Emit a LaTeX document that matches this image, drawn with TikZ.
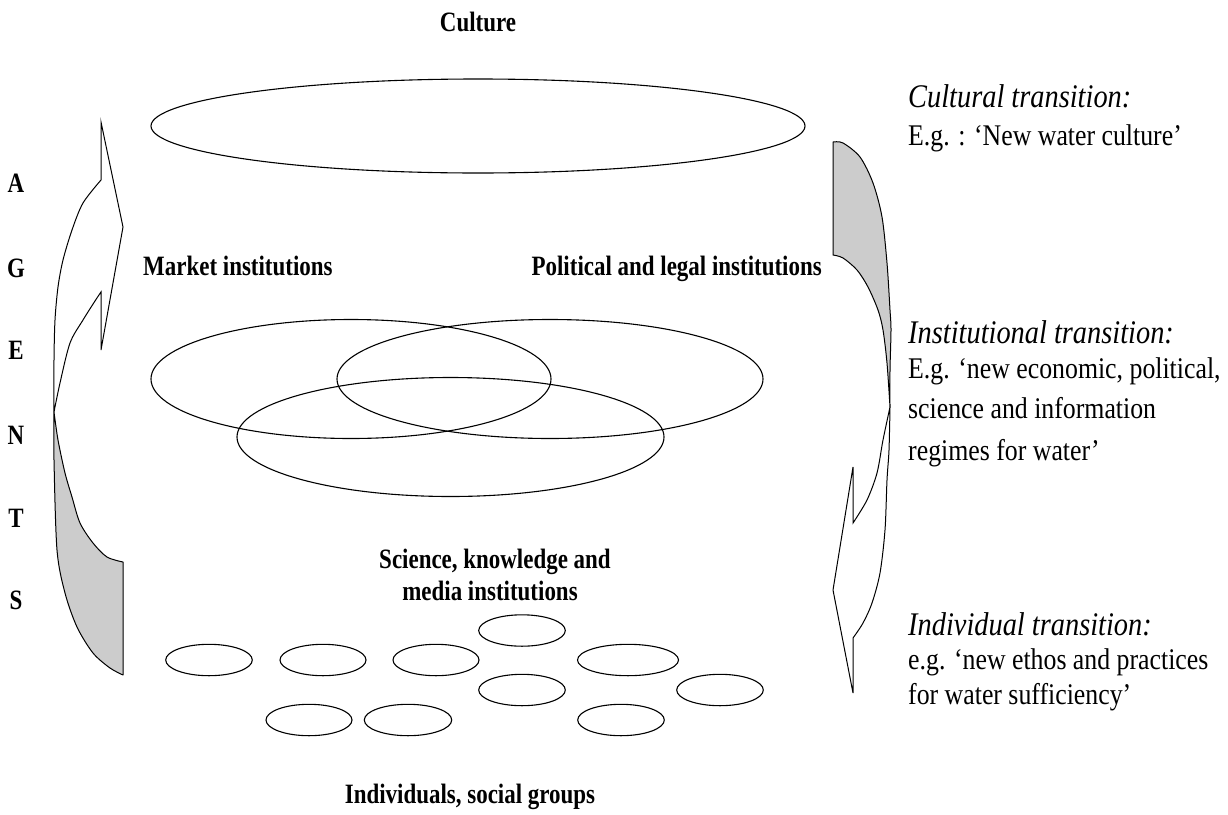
\documentclass[tikz,border=0pt]{standalone}
\usepackage{fontspec}
\setmainfont{Liberation Serif}
\newfontfamily\labelserif{Liberation Serif}[FakeStretch=0.82]
\newfontfamily\noteserif{Liberation Serif}[FakeStretch=0.86]
\usetikzlibrary{shapes.geometric}
\definecolor{backgray}{RGB}{204,204,204}

\begin{document}
\begin{tikzpicture}[x=1pt,y=-1pt,
  ring/.style 2 args={draw=black, line width=1.1pt, ellipse, inner sep=0pt,
    minimum width=#1, minimum height=#2},
  lbl/.style={font=\labelserif\bfseries\fontsize{28pt}{30pt}\selectfont, inner sep=0pt},
  agent/.style={font=\labelserif\bfseries\fontsize{28pt}{30pt}\selectfont, inner sep=0pt, anchor=center},
  head/.style={font=\noteserif\itshape\fontsize{33pt}{36pt}\selectfont, inner sep=0pt, anchor=base west},
  note/.style={font=\noteserif\fontsize{30pt}{32pt}\selectfont, inner sep=0pt, anchor=base west},
  backface/.style={fill=backgray, draw=black, line width=1pt, line join=round},
  frontface/.style={fill=white, draw=black, line width=1pt, line join=miter}]

\fill[white] (0,0) rectangle (1228,814);
\useasboundingbox (0,0) rectangle (1228,814);

% culture layer
\node[ring={654pt}{94pt}] (culture) at (478,126) {};
\node[lbl, anchor=base] (cultureLbl) at (478,31) {Culture};

% institutional layer
\node[ring={400pt}{119pt}] (market) at (351,379) {};
\node[ring={426pt}{119pt}] (political) at (550,379) {};
\node[ring={427pt}{119pt}] (science) at (450.5,437) {};
\node[lbl, anchor=base west] (marketLbl) at (143,275) {Market institutions};
\node[lbl, anchor=base east] (politicalLbl) at (822,275) {Political and legal institutions};
\node[lbl, anchor=base, align=center] (scienceLbl) at (495,568) {Science, knowledge and};
\node[lbl, anchor=base] (scienceLblB) at (490,600) {media institutions};

% individuals and groups
\node[ring={86.6pt}{31.4pt}] (g1) at (209,660) {};
\node[ring={86pt}{31.4pt}] (g2) at (323,660) {};
\node[ring={86pt}{31.4pt}] (g3) at (436,660) {};
\node[ring={86.6pt}{31.4pt}] (g4) at (522,630.5) {};
\node[ring={101pt}{31.4pt}] (g5) at (628,660) {};
\node[ring={86.6pt}{31.4pt}] (g6) at (522,690) {};
\node[ring={86.6pt}{31.4pt}] (g7) at (720,690) {};
\node[ring={86pt}{31.4pt}] (g8) at (309,720) {};
\node[ring={87.4pt}{31.4pt}] (g9) at (408,720) {};
\node[ring={86.6pt}{31.4pt}] (g10) at (621,720) {};
\node[lbl, anchor=base] (indivLbl) at (470,803) {Individuals, social groups};

% AGENTS, spelled down the left margin
\node[agent] (aA) at (16,183) {A};
\node[agent] (aG) at (16,268) {G};
\node[agent] (aE) at (16,350) {E};
\node[agent] (aN) at (16,435) {N};
\node[agent] (aT) at (16,518) {T};
\node[agent] (aS) at (16,600) {S};

% upward curved arrow on the left: shaded underside, then the white front with its head
\filldraw[backface]
  plot[smooth] coordinates {(54,412) (54,460) (57,550) (65,593) (77,627) (93,653) (110,668) (123,675)}
  -- (123,562)
  -- plot[smooth] coordinates {(123,562) (107,557) (93,543) (80,523) (72,497) (65,473) (58,440) (54,412)}
  -- cycle;
\filldraw[frontface]
  (101,292) -- (101,350) -- (123,227) -- (101,122) -- (101,180)
  -- plot[smooth] coordinates {(101,180) (83,203) (72,230) (63,260) (58,287) (55,320) (54,360) (54,412)}
  -- plot[smooth] coordinates {(54,412) (60,383) (70,343) (83,320) (95,301) (101,292)}
  -- cycle;

% downward curved arrow on the right
\filldraw[backface]
  plot[smooth] coordinates {(833,142) (843,143) (860,157) (873,183) (882,217) (887,263) (890,310) (891,330) (890,370) (890,407)}
  -- plot[smooth] coordinates {(890,407) (887,363) (883,330) (878,310) (868,287) (857,270) (843,258) (833,255)}
  -- cycle;
\filldraw[frontface]
  (853,523) -- (853,467) -- (833,590) -- (853,693) -- (853,638)
  -- plot[smooth] coordinates {(853,638) (863,623) (872,603) (880,573) (885,530) (887,480) (889,450) (890,407)}
  -- plot[smooth] coordinates {(890,407) (883,440) (877,473) (867,500) (853,523)}
  -- cycle;

% transitions
\node[head] (culT) at (908,107) {Cultural transition:};
\node[note] (culE) at (908,145) {E.g. : ‘New water culture’};

\node[head] (insT) at (908,343) {Institutional transition:};
\node[note] (insE1) at (908,378) {E.g. ‘new economic, political,};
\node[note] (insE2) at (908,418) {science and information};
\node[note] (insE3) at (908,460) {regimes for water’};

\node[head] (indT) at (908,635) {Individual transition:};
\node[note] (indE1) at (908,669) {e.g. ‘new ethos and practices};
\node[note] (indE2) at (908,704) {for water sufficiency’};
\end{tikzpicture}
\end{document}
